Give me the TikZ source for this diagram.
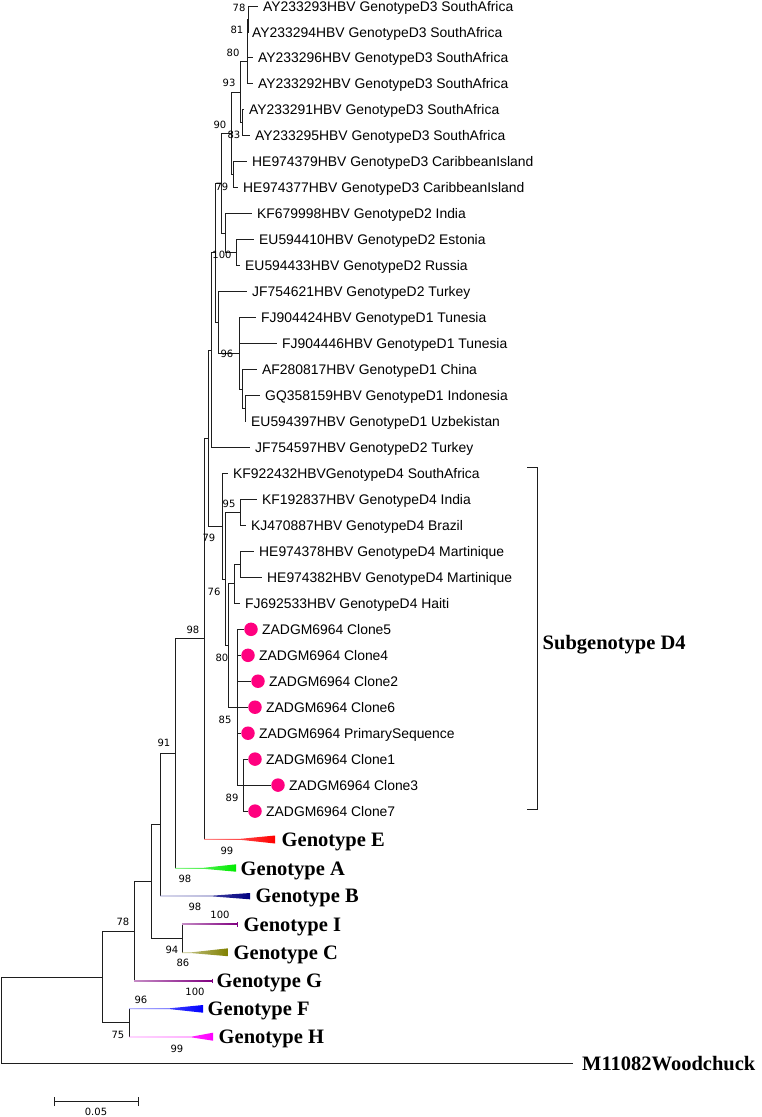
\documentclass[tikz,border=0pt]{standalone}
\usepackage{fontspec}
\setmainfont{Liberation Sans}
\newfontfamily\serifbold{Liberation Serif}
\newfontfamily\bsfont{DejaVu Sans}
\definecolor{linec}{RGB}{30,30,30}
\definecolor{pinkdot}{RGB}{255,0,127}
\definecolor{cE}{RGB}{255,0,0}
\definecolor{cA}{RGB}{0,235,0}
\definecolor{cB}{RGB}{0,0,128}
\definecolor{cI}{RGB}{128,0,128}
\definecolor{cC}{RGB}{128,128,0}
\definecolor{cG}{RGB}{128,0,128}
\definecolor{cF}{RGB}{0,0,255}
\definecolor{cH}{RGB}{255,0,255}
\newcommand\cladewedge[7]{%
  \shade[left color=#1!45!white, right color=#1]
    (#2,{#5-0.45}) -- (#3,{#5-0.45}) -- (#4,#6) -- (#4,#7) -- (#3,{#5+0.45}) -- (#2,{#5+0.45}) -- cycle;}
\newcommand\cladetick[6]{%
  \shade[left color=#1!45!white, right color=#1]
    (#2,{#4-0.45}) -- (#3,{#4-0.45}) -- (#3,{#4+0.45}) -- (#2,{#4+0.45}) -- cycle;
  \draw[#1, line width=0.9pt] (#3,#5) -- (#3,#6);}
\begin{document}
\begin{tikzpicture}[x=1pt,y=-1pt,
  tree/.style={line width=0.9pt, draw=linec},
  leaf/.style={anchor=west, inner xsep=5.5pt, inner ysep=0pt, text height=10pt, text depth=0pt, font=\fontsize{13.9}{15}\selectfont},
  grp/.style={anchor=west, inner sep=0pt, text height=13.6pt, text depth=0pt, font=\serifbold\bfseries\fontsize{20.5}{22}\selectfont},
  bs/.style={inner sep=0pt, text height=7.3pt, text depth=0pt, font=\bsfont\fontsize{10}{12}\selectfont},
  dot/.style={circle, fill=pinkdot, minimum size=13.5pt, inner sep=0pt}]
\useasboundingbox (0,0) rectangle (761,1117);

% ---------- leaves ----------
\node[leaf] (l1) at (257.5,6.0) {AY233293HBV GenotypeD3 SouthAfrica};
\node[leaf, inner xsep=3.5pt] (l2) at (248.5,32.0) {AY233294HBV GenotypeD3 SouthAfrica};
\node[leaf] (l3) at (252.5,57.9) {AY233296HBV GenotypeD3 SouthAfrica};
\node[leaf] (l4) at (252.5,83.9) {AY233292HBV GenotypeD3 SouthAfrica};
\node[leaf] (l5) at (243.5,109.9) {AY233291HBV GenotypeD3 SouthAfrica};
\node[leaf] (l6) at (249.5,135.9) {AY233295HBV GenotypeD3 SouthAfrica};
\node[leaf] (l7) at (246.5,161.8) {HE974379HBV GenotypeD3 CaribbeanIsland};
\node[leaf] (l8) at (237.5,187.8) {HE974377HBV GenotypeD3 CaribbeanIsland};
\node[leaf] (l9) at (251.5,213.8) {KF679998HBV GenotypeD2 India};
\node[leaf] (l10) at (253.5,239.7) {EU594410HBV GenotypeD2 Estonia};
\node[leaf] (l11) at (239.5,265.7) {EU594433HBV GenotypeD2 Russia};
\node[leaf] (l12) at (246.5,291.7) {JF754621HBV GenotypeD2 Turkey};
\node[leaf] (l13) at (255.5,317.6) {FJ904424HBV GenotypeD1 Tunesia};
\node[leaf] (l14) at (276.5,343.6) {FJ904446HBV GenotypeD1 Tunesia};
\node[leaf] (l15) at (256.5,369.6) {AF280817HBV GenotypeD1 China};
\node[leaf] (l16) at (259.5,395.6) {GQ358159HBV GenotypeD1 Indonesia};
\node[leaf] (l17) at (245.5,421.5) {EU594397HBV GenotypeD1 Uzbekistan};
\node[leaf] (l18) at (249.5,447.5) {JF754597HBV GenotypeD2 Turkey};
\node[leaf] (l19) at (227.5,473.5) {KF922432HBVGenotypeD4 SouthAfrica};
\node[leaf] (l20) at (256.5,499.4) {KF192837HBV GenotypeD4 India};
\node[leaf] (l21) at (245.5,525.4) {KJ470887HBV GenotypeD4 Brazil};
\node[leaf] (l22) at (253.5,551.4) {HE974378HBV GenotypeD4 Martinique};
\node[leaf] (l23) at (261.5,577.3) {HE974382HBV GenotypeD4 Martinique};
\node[leaf] (l24) at (239.5,603.3) {FJ692533HBV GenotypeD4 Haiti};

\node[dot] (d25) at (251,629.3) {};
\node[leaf] (l25) at (256.5,629.3) {ZADGM6964 Clone5};
\node[dot] (d26) at (248,655.3) {};
\node[leaf] (l26) at (253.5,655.3) {ZADGM6964 Clone4};
\node[dot] (d27) at (258,681.2) {};
\node[leaf] (l27) at (263.5,681.2) {ZADGM6964 Clone2};
\node[dot] (d28) at (255,707.2) {};
\node[leaf] (l28) at (260.5,707.2) {ZADGM6964 Clone6};
\node[dot] (d29) at (248,733.2) {};
\node[leaf] (l29) at (253.5,733.2) {ZADGM6964 PrimarySequence};
\node[dot] (d30) at (255,759.1) {};
\node[leaf] (l30) at (260.5,759.1) {ZADGM6964 Clone1};
\node[dot] (d31) at (278,785.1) {};
\node[leaf] (l31) at (283.5,785.1) {ZADGM6964 Clone3};
\node[dot] (d32) at (255,811.1) {};
\node[leaf] (l32) at (260.5,811.1) {ZADGM6964 Clone7};

% ---------- internal nodes ----------
\coordinate (n78) at (248,19.0);
\coordinate (n81) at (247.5,38.5);
\coordinate (n80) at (247,61.2);
\coordinate (n83) at (242,122.9);
\coordinate (n93) at (240,92.0);
\coordinate (nCar) at (233,174.8);
\coordinate (n90) at (231,133.4);
\coordinate (nEU) at (236,252.7);
\coordinate (nKF) at (225,233.2);
\coordinate (n79a) at (221,183.3);
\coordinate (nGQ) at (245,408.5);
\coordinate (nAF) at (242,389.0);
\coordinate (n96) at (239,353.3);
\coordinate (nJF) at (218,322.5);
\coordinate (n100) at (215,252.9);
\coordinate (nU) at (211,350.2);
\coordinate (n95) at (240,512.4);
\coordinate (nHE) at (240,564.4);
\coordinate (nHEFJ) at (234,583.8);
\coordinate (n89) at (243,785.1);
\coordinate (n85) at (237,707.2);
\coordinate (n80b) at (228,645.5);
\coordinate (n76) at (225,579.0);
\coordinate (nD4) at (222,526.2);
\coordinate (nDr) at (208,438.2);
\coordinate (n98) at (204,638.7);
\coordinate (n91) at (175,753.5);
\coordinate (n160) at (160,824.8);
\coordinate (nIC) at (182,938.5);
\coordinate (n151) at (151,881.6);
\coordinate (n78b) at (134,931.3);
\coordinate (nFH) at (129,1022.9);
\coordinate (nOut) at (102,977.1);
\coordinate (root) at (1,1020.2);
% collapsed clade starts
\coordinate (sE) at (204,839.3);
\coordinate (sA) at (175,868.3);
\coordinate (sB) at (160,896.0);
\coordinate (sI) at (182,924.3);
\coordinate (sC) at (182,952.7);
\coordinate (sG) at (134,981.0);
\coordinate (sF) at (129,1008.7);
\coordinate (sH) at (129,1037.0);

% ---------- branches ----------
\draw[tree] (n78) |- (l1.west) (n78) |- (l2.west);
\draw[tree] (n81) |- (n78) (n81) |- (l3.west);
\draw[tree] (n80) |- (n81) (n80) |- (l4.west);
\draw[tree] (n83) |- (l5.west) (n83) |- (l6.west);
\draw[tree] (n93) |- (n80) (n93) |- (n83);
\draw[tree] (nCar) |- (l7.west) (nCar) |- (l8.west);
\draw[tree] (n90) |- (n93) (n90) |- (nCar);
\draw[tree] (nEU) |- (l10.west) (nEU) |- (l11.west);
\draw[tree] (nKF) |- (l9.west) (nKF) |- (nEU);
\draw[tree] (n79a) |- (n90) (n79a) |- (nKF);
\draw[tree] (nGQ) |- (l16.west) (nGQ) |- (l17.west);
\draw[tree] (nAF) |- (l15.west) (nAF) |- (nGQ);
\draw[tree] (n96) |- (l13.west) (n96) |- (l14.west) (n96) |- (nAF);
\draw[tree] (nJF) |- (l12.west) (nJF) |- (n96);
\draw[tree] (n100) |- (n79a) (n100) |- (nJF);
\draw[tree] (nU) |- (n100) (nU) |- (l18.west);
\draw[tree] (n95) |- (l20.west) (n95) |- (l21.west);
\draw[tree] (nHE) |- (l22.west) (nHE) |- (l23.west);
\draw[tree] (nHEFJ) |- (nHE) (nHEFJ) |- (l24.west);
\draw[tree] (n89) |- (d30.west) (n89) |- (d31.west) (n89) |- (d32.west);
\draw[tree] (n85) |- (d25.west) (n85) |- (d26.west) (n85) |- (d27.west)
            (n85) |- (d28.west) (n85) |- (d29.west) (n85) |- (n89);
\draw[tree] (n80b) |- (nHEFJ) (n80b) |- (n85);
\draw[tree] (n76) |- (n95) (n76) |- (n80b);
\draw[tree] (nD4) |- (l19.west) (nD4) |- (n76);
\draw[tree] (nDr) |- (nU) (nDr) |- (nD4);
\draw[tree] (n98) |- (nDr) (n98) -- (sE);
\draw[tree] (n91) |- (n98) (n91) -- (sA);
\draw[tree] (n160) |- (n91) (n160) -- (sB);
\draw[tree] (nIC) -- (sI) (nIC) -- (sC);
\draw[tree] (n151) |- (n160) (n151) |- (nIC);
\draw[tree] (n78b) |- (n151) (n78b) -- (sG);
\draw[tree] (nFH) -- (sF) (nFH) -- (sH);
\draw[tree] (nOut) |- (n78b) (nOut) |- (nFH);
\node[grp, inner xsep=9pt] (lW) at (573,1063.3) {M11082Woodchuck};
\draw[tree] (root) |- (nOut) (root) |- (lW.west);

% ---------- collapsed clades ----------
\cladewedge{cE}{204}{240}{275}{839.3}{835.5}{843.5}
\cladewedge{cA}{175}{203}{236}{868.3}{864.3}{871.7}
\cladewedge{cB}{160}{213}{250}{896.0}{893.0}{899.3}
\cladetick{cI}{182}{237}{924.3}{922.0}{926.6}
\cladewedge{cC}{182}{192}{228}{952.7}{948.3}{956.2}
\cladetick{cG}{134}{212}{981.0}{978.7}{983.3}
\cladewedge{cF}{129}{170}{203}{1008.7}{1005.0}{1012.7}
\cladewedge{cH}{129}{192}{213}{1037.0}{1032.7}{1040.7}

\node[grp] (gE) at (281.5,839.3) {Genotype E};
\node[grp] (gA) at (240.5,868.3) {Genotype A};
\node[grp] (gB) at (255.5,896.0) {Genotype B};
\node[grp] (gI) at (243.5,924.3) {Genotype I};
\node[grp] (gC) at (233.5,952.7) {Genotype C};
\node[grp] (gG) at (216.5,981.0) {Genotype G};
\node[grp] (gF) at (207.5,1008.7) {Genotype F};
\node[grp] (gH) at (218.5,1037.0) {Genotype H};

% ---------- subgenotype bracket ----------
\coordinate (bt) at (527,467);
\coordinate (bb) at (527,809);
\draw[tree] (bt) -- ++(10,0) coordinate (bt2) -- (bt2 |- bb) -- (bb);
\node[grp] (sub) at (542.5,643) {Subgenotype D4};

% ---------- bootstrap values ----------
\node[bs] (b1) at (239,8) {78};
\node[bs] (b2) at (237,30) {81};
\node[bs] (b3) at (233,53) {80};
\node[bs] (b4) at (229,83) {93};
\node[bs] (b5) at (220,125) {90};
\node[bs] (b6) at (234,135) {83};
\node[bs] (b7) at (222,187) {79};
\node[bs] (b8) at (222,255) {100};
\node[bs] (b9) at (227,354) {96};
\node[bs] (b10) at (229,504) {95};
\node[bs] (b11) at (209,538) {79};
\node[bs] (b12) at (214,592) {76};
\node[bs] (b13) at (193,630) {98};
\node[bs] (b14) at (222,658) {80};
\node[bs] (b15) at (225,720) {85};
\node[bs] (b16) at (164,743) {91};
\node[bs] (b17) at (232,798) {89};
\node[bs] (b18) at (227,851) {99};
\node[bs] (b19) at (185,879) {98};
\node[bs] (b20) at (195,907) {98};
\node[bs] (b21) at (220,915) {100};
\node[bs] (b22) at (172,950) {94};
\node[bs] (b23) at (183,963) {86};
\node[bs] (b24) at (123,922) {78};
\node[bs] (b25) at (195,992) {100};
\node[bs] (b26) at (141,1000) {96};
\node[bs] (b27) at (118,1035) {75};
\node[bs] (b28) at (177,1049) {99};

% ---------- scale bar ----------
\coordinate (sb1) at (54,1101.5);
\coordinate (sb2) at (138,1101.5);
\draw[tree] (sb1) -- (sb2);
\draw[tree] ([yshift=-4.5pt]sb1) -- ([yshift=4.5pt]sb1);
\draw[tree] ([yshift=-4.5pt]sb2) -- ([yshift=4.5pt]sb2);
\node[bs] (sbl) at (96,1112) {0.05};
\end{tikzpicture}
\end{document}
